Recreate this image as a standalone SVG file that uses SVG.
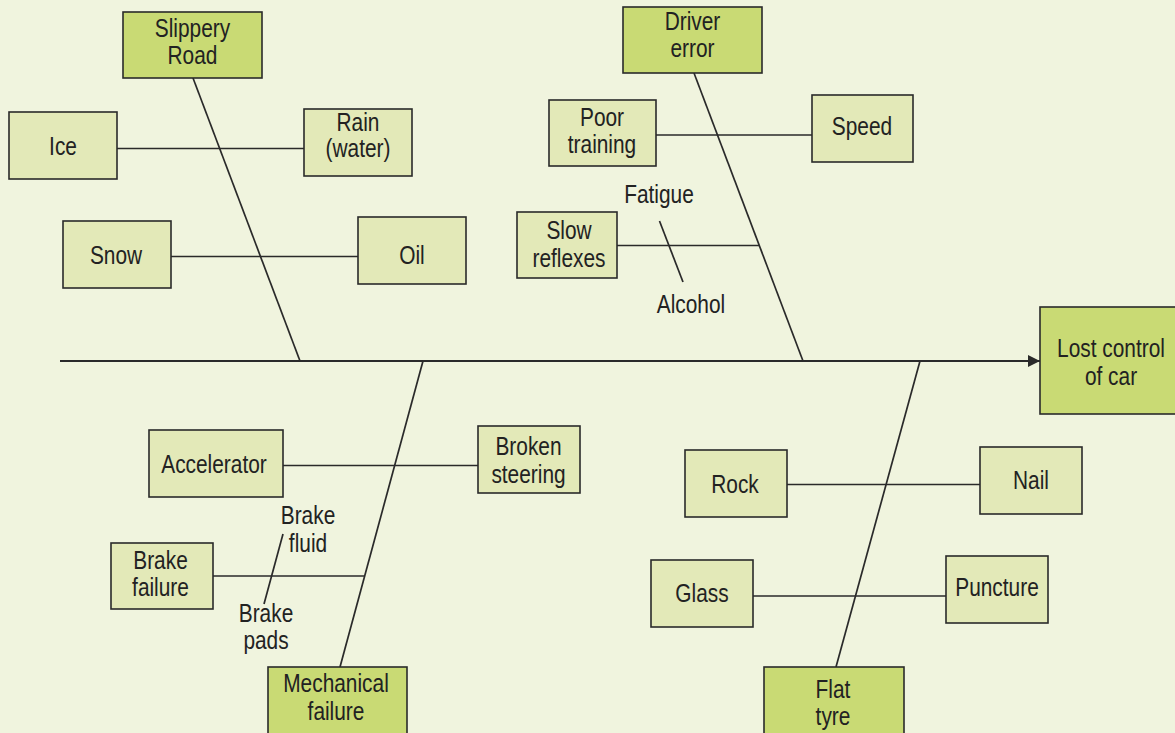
<svg xmlns="http://www.w3.org/2000/svg" width="1175" height="733" viewBox="0 0 1175 733">
  <defs>
    <marker id="arrow" viewBox="0 0 12 12" refX="12" refY="6" markerWidth="12" markerHeight="12" markerUnits="userSpaceOnUse" orient="auto">
      <path d="M0,0 L12,6 L0,12 Z" fill="#2a2a2a"/>
    </marker>
    <style>
      .bg { fill: #f0f4de; }
      .main rect { fill: #c9da74; stroke: #2a2a2a; stroke-width: 1.6; }
      .sub rect { fill: #e3e9b8; stroke: #2a2a2a; stroke-width: 1.6; }
      /* condensed sans: regular face squeezed horizontally */
      text { font-family: "Liberation Sans", Arial, sans-serif; font-size: 25px; fill: #222; text-anchor: middle; }
      .wire { stroke: #2a2a2a; stroke-width: 1.7; fill: none; }
      .spine { stroke: #2a2a2a; stroke-width: 2.2; fill: none; }
    </style>
  </defs>

  <rect class="bg" x="0" y="0" width="1175" height="733"/>

  <!-- connectors: spine, category bones, cause ribs and minor ticks -->
  <g id="connectors">
    <line class="spine" x1="60" y1="361" x2="1040" y2="361" marker-end="url(#arrow)"/>
    <line class="wire" x1="193" y1="78" x2="300" y2="361"/>
    <line class="wire" x1="694" y1="73" x2="803" y2="361"/>
    <line class="wire" x1="340" y1="667" x2="423" y2="361"/>
    <line class="wire" x1="836" y1="667" x2="920" y2="361"/>
    <line class="wire" x1="117" y1="148.5" x2="304" y2="148.5"/>
    <line class="wire" x1="171" y1="256.5" x2="358" y2="256.5"/>
    <line class="wire" x1="656" y1="135" x2="812" y2="135"/>
    <line class="wire" x1="617" y1="245.5" x2="759.5" y2="245.5"/>
    <line class="wire" x1="659.5" y1="221" x2="683" y2="282"/>
    <line class="wire" x1="283" y1="465.5" x2="478" y2="465.5"/>
    <line class="wire" x1="213" y1="576" x2="364" y2="576"/>
    <line class="wire" x1="283" y1="534" x2="264" y2="604"/>
    <line class="wire" x1="787" y1="484.5" x2="980" y2="484.5"/>
    <line class="wire" x1="753" y1="596" x2="946" y2="596"/>
  </g>

  <!-- effect -->
  <g id="lost-control" class="main">
    <rect x="1040" y="307" width="145" height="107"/>
    <text transform="translate(1111 357) scale(0.835 1)">Lost control</text>
    <text transform="translate(1111 384.5) scale(0.835 1)">of car</text>
  </g>

  <!-- categories -->
  <g id="slippery-road" class="main">
    <rect x="123" y="12" width="139" height="66"/>
    <text transform="translate(192.5 37) scale(0.835 1)">Slippery</text>
    <text transform="translate(192.5 63.5) scale(0.835 1)">Road</text>
  </g>
  <g id="driver-error" class="main">
    <rect x="623" y="7" width="139" height="66"/>
    <text transform="translate(692.5 30) scale(0.835 1)">Driver</text>
    <text transform="translate(692.5 57) scale(0.835 1)">error</text>
  </g>
  <g id="mechanical-failure" class="main">
    <rect x="268" y="667" width="139" height="72"/>
    <text transform="translate(336 692) scale(0.835 1)">Mechanical</text>
    <text transform="translate(336 719.5) scale(0.835 1)">failure</text>
  </g>
  <g id="flat-tyre" class="main">
    <rect x="764" y="667" width="140" height="72"/>
    <text transform="translate(833 698) scale(0.835 1)">Flat</text>
    <text transform="translate(833 724.5) scale(0.835 1)">tyre</text>
  </g>

  <!-- causes: slippery road -->
  <g id="ice" class="sub">
    <rect x="9" y="112" width="108" height="67"/>
    <text transform="translate(63 155) scale(0.835 1)">Ice</text>
  </g>
  <g id="rain" class="sub">
    <rect x="304" y="109" width="108" height="67"/>
    <text transform="translate(358 131) scale(0.835 1)">Rain</text>
    <text transform="translate(358 157) scale(0.835 1)">(water)</text>
  </g>
  <g id="snow" class="sub">
    <rect x="63" y="221" width="108" height="67"/>
    <text transform="translate(116 264) scale(0.835 1)">Snow</text>
  </g>
  <g id="oil" class="sub">
    <rect x="358" y="217" width="108" height="67"/>
    <text transform="translate(412 264) scale(0.835 1)">Oil</text>
  </g>

  <!-- causes: driver error -->
  <g id="poor-training" class="sub">
    <rect x="549" y="100" width="107" height="66"/>
    <text transform="translate(602 126) scale(0.835 1)">Poor</text>
    <text transform="translate(602 153) scale(0.835 1)">training</text>
  </g>
  <g id="speed" class="sub">
    <rect x="812" y="95" width="101" height="67"/>
    <text transform="translate(862 135) scale(0.835 1)">Speed</text>
  </g>
  <g id="slow-reflexes" class="sub">
    <rect x="517" y="212" width="100" height="66"/>
    <text transform="translate(569 238.5) scale(0.835 1)">Slow</text>
    <text transform="translate(569 266.5) scale(0.835 1)">reflexes</text>
  </g>
  <g id="fatigue">
    <text transform="translate(659 202.5) scale(0.835 1)">Fatigue</text>
  </g>
  <g id="alcohol">
    <text transform="translate(691 312.5) scale(0.835 1)">Alcohol</text>
  </g>

  <!-- causes: mechanical failure -->
  <g id="accelerator" class="sub">
    <rect x="149" y="430" width="134" height="67"/>
    <text transform="translate(214 472.5) scale(0.835 1)">Accelerator</text>
  </g>
  <g id="broken-steering" class="sub">
    <rect x="478" y="426" width="102" height="67"/>
    <text transform="translate(528.5 455) scale(0.835 1)">Broken</text>
    <text transform="translate(528.5 482.5) scale(0.835 1)">steering</text>
  </g>
  <g id="brake-failure" class="sub">
    <rect x="111" y="543" width="102" height="66"/>
    <text transform="translate(160.5 568.5) scale(0.835 1)">Brake</text>
    <text transform="translate(160.5 596) scale(0.835 1)">failure</text>
  </g>
  <g id="brake-fluid">
    <text transform="translate(308 523.5) scale(0.835 1)">Brake</text>
    <text transform="translate(308 552) scale(0.835 1)">fluid</text>
  </g>
  <g id="brake-pads">
    <text transform="translate(266 622) scale(0.835 1)">Brake</text>
    <text transform="translate(266 648.5) scale(0.835 1)">pads</text>
  </g>

  <!-- causes: flat tyre -->
  <g id="rock" class="sub">
    <rect x="685" y="450" width="102" height="67"/>
    <text transform="translate(735 492.5) scale(0.835 1)">Rock</text>
  </g>
  <g id="nail" class="sub">
    <rect x="980" y="447" width="102" height="67"/>
    <text transform="translate(1031 488.5) scale(0.835 1)">Nail</text>
  </g>
  <g id="glass" class="sub">
    <rect x="651" y="560" width="102" height="67"/>
    <text transform="translate(702 602) scale(0.835 1)">Glass</text>
  </g>
  <g id="puncture" class="sub">
    <rect x="946" y="556" width="102" height="67"/>
    <text transform="translate(997 596) scale(0.835 1)">Puncture</text>
  </g>
</svg>
